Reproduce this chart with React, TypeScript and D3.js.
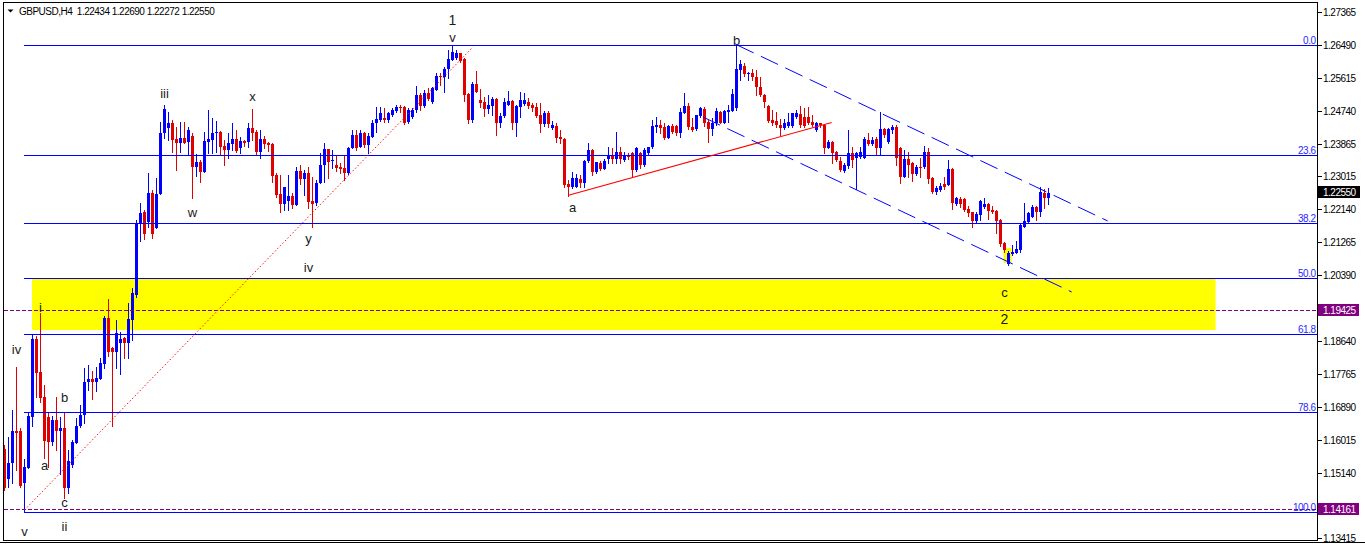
import React, { useEffect } from 'react';
import * as d3 from 'd3';

// ---- Candles (GBPUSD, H4) ----
const OPEN = [
  1.1578, 1.1499, 1.1541, 1.1626, 1.1626, 1.1488, 1.1528, 1.1663, 1.1869, 1.1782,
  1.1716, 1.1663, 1.1597, 1.1655, 1.1626, 1.1634, 1.1475, 1.1536, 1.1594, 1.1639,
  1.1668, 1.1756, 1.1764, 1.1756, 1.1764, 1.1803, 1.1925, 1.1846, 1.1835, 1.1859,
  1.1872, 1.1859, 1.1920, 1.1986, 1.2174, 1.2206, 1.2179, 1.2256, 1.2164, 1.2254,
  1.2415, 1.2428, 1.2442, 1.2399, 1.2389, 1.2402, 1.2391, 1.2407, 1.2325, 1.2338,
  1.2312, 1.2391, 1.2397, 1.2415, 1.2418, 1.2381, 1.2370, 1.2386, 1.2399, 1.2375,
  1.2394, 1.2391, 1.2428, 1.2418, 1.2365, 1.2399, 1.2389, 1.2386, 1.2304, 1.2254,
  1.2227, 1.2235, 1.2248, 1.2224, 1.2315, 1.2293, 1.2309, 1.2235, 1.2230, 1.2283,
  1.2330, 1.2373, 1.2341, 1.2330, 1.2325, 1.2322, 1.2309, 1.2375, 1.2410, 1.2378,
  1.2415, 1.2383, 1.2405, 1.2442, 1.2450, 1.2455, 1.2450, 1.2463, 1.2473, 1.2484,
  1.2484, 1.2444, 1.2458, 1.2476, 1.2516, 1.2487, 1.2521, 1.2497, 1.2529, 1.2566,
  1.2564, 1.2585, 1.2609, 1.2614, 1.2627, 1.2611, 1.2518, 1.2450, 1.2545, 1.2503,
  1.2497, 1.2479, 1.2487, 1.2505, 1.2442, 1.2460, 1.2489, 1.2500, 1.2442, 1.2484,
  1.2492, 1.2497, 1.2489, 1.2484, 1.2463, 1.2439, 1.2468, 1.2428, 1.2434, 1.2405,
  1.2399, 1.2280, 1.2272, 1.2272, 1.2293, 1.2283, 1.2341, 1.2370, 1.2312, 1.2336,
  1.2320, 1.2346, 1.2357, 1.2346, 1.2365, 1.2344, 1.2357, 1.2362, 1.2317, 1.2362,
  1.2330, 1.2362, 1.2378, 1.2431, 1.2436, 1.2431, 1.2402, 1.2434, 1.2434, 1.2415,
  1.2468, 1.2487, 1.2431, 1.2426, 1.2460, 1.2479, 1.2444, 1.2426, 1.2442, 1.2471,
  1.2442, 1.2471, 1.2473, 1.2481, 1.2582, 1.2593, 1.2571, 1.2574, 1.2564, 1.2537,
  1.2516, 1.2487, 1.2450, 1.2447, 1.2436, 1.2428, 1.2434, 1.2434, 1.2458, 1.2466,
  1.2458, 1.2458, 1.2444, 1.2423, 1.2442, 1.2436, 1.2375, 1.2391, 1.2365, 1.2341,
  1.2315, 1.2328, 1.2362, 1.2349, 1.2352, 1.2349, 1.2397, 1.2386, 1.2399, 1.2375,
  1.2426, 1.2391, 1.2423, 1.2431, 1.2375, 1.2299, 1.2346, 1.2336, 1.2307, 1.2325,
  1.2325, 1.2365, 1.2296, 1.2259, 1.2264, 1.2280, 1.2277, 1.2320, 1.2227, 1.2240,
  1.2240, 1.2214, 1.2206, 1.2182, 1.2198, 1.2219, 1.2227, 1.2211, 1.2209, 1.2185,
  1.2124, 1.2068, 1.2095, 1.2097, 1.2105, 1.2166, 1.2179, 1.2193, 1.2219, 1.2206,
  1.2256, 1.22434,
];
const HIGH = [
  1.1589, 1.1610, 1.1681, 1.1795, 1.1634, 1.1552, 1.1673, 1.1880, 1.1877, 1.1938,
  1.1748, 1.1676, 1.1666, 1.1716, 1.1663, 1.1676, 1.1575, 1.1602, 1.1660, 1.1695,
  1.1793, 1.1801, 1.1785, 1.1795, 1.1819, 1.1930, 1.1975, 1.1848, 1.1920, 1.1888,
  1.1875, 1.1965, 1.2005, 1.2185, 1.2230, 1.2211, 1.2309, 1.2264, 1.2296, 1.2444,
  1.2489, 1.2471, 1.2450, 1.2431, 1.2444, 1.2444, 1.2431, 1.2415, 1.2360, 1.2344,
  1.2418, 1.2476, 1.2455, 1.2447, 1.2420, 1.2397, 1.2415, 1.2442, 1.2423, 1.2405,
  1.2397, 1.2442, 1.2479, 1.2423, 1.2423, 1.2407, 1.2391, 1.2389, 1.2309, 1.2304,
  1.2272, 1.2304, 1.2256, 1.2325, 1.2330, 1.2317, 1.2325, 1.2299, 1.2291, 1.2362,
  1.2389, 1.2373, 1.2370, 1.2357, 1.2336, 1.2357, 1.2378, 1.2423, 1.2423, 1.2423,
  1.2418, 1.2415, 1.2450, 1.2484, 1.2484, 1.2481, 1.2471, 1.2481, 1.2489, 1.2489,
  1.2487, 1.2481, 1.2481, 1.2540, 1.2521, 1.2529, 1.2534, 1.2537, 1.2574, 1.2574,
  1.2590, 1.2635, 1.2649, 1.2635, 1.2627, 1.2614, 1.2521, 1.2550, 1.2579, 1.2532,
  1.2511, 1.2516, 1.2511, 1.2508, 1.2468, 1.2508, 1.2526, 1.2503, 1.2489, 1.2524,
  1.2521, 1.2508, 1.2495, 1.2495, 1.2495, 1.2473, 1.2473, 1.2447, 1.2442, 1.2423,
  1.2402, 1.2291, 1.2312, 1.2307, 1.2304, 1.2344, 1.2389, 1.2373, 1.2338, 1.2341,
  1.2346, 1.2378, 1.2375, 1.2418, 1.2378, 1.2365, 1.2362, 1.2365, 1.2378, 1.2365,
  1.2375, 1.2378, 1.2450, 1.2458, 1.2450, 1.2442, 1.2436, 1.2439, 1.2436, 1.2481,
  1.2521, 1.2495, 1.2455, 1.2463, 1.2484, 1.2484, 1.2450, 1.2455, 1.2481, 1.2473,
  1.2476, 1.2489, 1.2532, 1.2649, 1.2609, 1.2601, 1.2577, 1.2585, 1.2582, 1.2564,
  1.2518, 1.2489, 1.2476, 1.2471, 1.2452, 1.2452, 1.2468, 1.2468, 1.2476, 1.2487,
  1.2481, 1.2484, 1.2463, 1.2444, 1.2442, 1.2439, 1.2397, 1.2394, 1.2368, 1.2352,
  1.2336, 1.2423, 1.2378, 1.2365, 1.2378, 1.2405, 1.2415, 1.2405, 1.2405, 1.2471,
  1.2428, 1.2428, 1.2436, 1.2436, 1.2378, 1.2370, 1.2365, 1.2338, 1.2330, 1.2349,
  1.2381, 1.2375, 1.2299, 1.2275, 1.2283, 1.2299, 1.2344, 1.2322, 1.2246, 1.2246,
  1.2243, 1.2222, 1.2206, 1.2206, 1.2238, 1.2243, 1.2230, 1.2222, 1.2211, 1.2187,
  1.2127, 1.2103, 1.2119, 1.2129, 1.2177, 1.2230, 1.2206, 1.2224, 1.2222, 1.2272,
  1.2267, 1.22690,
];
const LOW = [
  1.1470, 1.1478, 1.1488, 1.1522, 1.1478, 1.1411, 1.1528, 1.1639, 1.1716, 1.1703,
  1.1554, 1.1530, 1.1589, 1.1575, 1.1512, 1.1448, 1.1462, 1.1530, 1.1594, 1.1636,
  1.1647, 1.1734, 1.1710, 1.1732, 1.1764, 1.1793, 1.1825, 1.1639, 1.1793, 1.1777,
  1.1819, 1.1819, 1.1867, 1.1981, 1.2129, 1.2134, 1.2166, 1.2137, 1.2164, 1.2254,
  1.2402, 1.2397, 1.2365, 1.2317, 1.2365, 1.2389, 1.2357, 1.2243, 1.2301, 1.2285,
  1.2312, 1.2362, 1.2362, 1.2365, 1.2360, 1.2330, 1.2349, 1.2370, 1.2365, 1.2362,
  1.2381, 1.2378, 1.2397, 1.2357, 1.2349, 1.2375, 1.2368, 1.2285, 1.2246, 1.2206,
  1.2211, 1.2211, 1.2217, 1.2224, 1.2280, 1.2251, 1.2217, 1.2166, 1.2224, 1.2283,
  1.2285, 1.2296, 1.2322, 1.2315, 1.2309, 1.2291, 1.2307, 1.2375, 1.2370, 1.2378,
  1.2378, 1.2362, 1.2405, 1.2418, 1.2447, 1.2444, 1.2444, 1.2460, 1.2471, 1.2471,
  1.2439, 1.2442, 1.2455, 1.2471, 1.2476, 1.2484, 1.2503, 1.2495, 1.2529, 1.2542,
  1.2524, 1.2561, 1.2609, 1.2611, 1.2603, 1.2500, 1.2442, 1.2444, 1.2524, 1.2484,
  1.2460, 1.2468, 1.2463, 1.2410, 1.2431, 1.2458, 1.2489, 1.2426, 1.2407, 1.2458,
  1.2489, 1.2481, 1.2473, 1.2458, 1.2418, 1.2434, 1.2431, 1.2426, 1.2391, 1.2389,
  1.2272, 1.2248, 1.2269, 1.2272, 1.2272, 1.2272, 1.2338, 1.2304, 1.2309, 1.2317,
  1.2320, 1.2336, 1.2336, 1.2336, 1.2336, 1.2341, 1.2346, 1.2299, 1.2315, 1.2322,
  1.2328, 1.2357, 1.2375, 1.2418, 1.2415, 1.2399, 1.2402, 1.2415, 1.2410, 1.2405,
  1.2468, 1.2426, 1.2420, 1.2423, 1.2458, 1.2434, 1.2391, 1.2410, 1.2436, 1.2442,
  1.2442, 1.2444, 1.2473, 1.2476, 1.2556, 1.2566, 1.2556, 1.2556, 1.2516, 1.2513,
  1.2484, 1.2444, 1.2436, 1.2431, 1.2410, 1.2426, 1.2431, 1.2431, 1.2455, 1.2431,
  1.2431, 1.2439, 1.2434, 1.2420, 1.2431, 1.2362, 1.2375, 1.2336, 1.2341, 1.2315,
  1.2312, 1.2322, 1.2325, 1.2267, 1.2349, 1.2349, 1.2383, 1.2383, 1.2360, 1.2360,
  1.2405, 1.2389, 1.2415, 1.2330, 1.2283, 1.2299, 1.2299, 1.2288, 1.2304, 1.2299,
  1.2322, 1.2283, 1.2256, 1.2254, 1.2262, 1.2267, 1.2277, 1.2214, 1.2224, 1.2219,
  1.2209, 1.2195, 1.2166, 1.2179, 1.2185, 1.2217, 1.2187, 1.2203, 1.2150, 1.2116,
  1.2100, 1.2066, 1.2092, 1.2097, 1.2100, 1.2166, 1.2177, 1.2193, 1.2185, 1.2195,
  1.2217, 1.22272,
];
const CLOSE = [
  1.1475, 1.1541, 1.1626, 1.1620, 1.1480, 1.1530, 1.1666, 1.1869, 1.1779, 1.1713,
  1.1599, 1.1597, 1.1655, 1.1626, 1.1634, 1.1475, 1.1546, 1.1597, 1.1639, 1.1668,
  1.1756, 1.1764, 1.1756, 1.1766, 1.1806, 1.1925, 1.1835, 1.1835, 1.1885, 1.1869,
  1.1859, 1.1922, 1.1991, 1.2177, 1.2203, 1.2148, 1.2256, 1.2148, 1.2254, 1.2415,
  1.2479, 1.2442, 1.2397, 1.2389, 1.2402, 1.2389, 1.2423, 1.2325, 1.2338, 1.2312,
  1.2394, 1.2399, 1.2415, 1.2418, 1.2378, 1.2370, 1.2389, 1.2399, 1.2368, 1.2394,
  1.2389, 1.2428, 1.2415, 1.2365, 1.2399, 1.2386, 1.2383, 1.2301, 1.2251, 1.2227,
  1.2272, 1.2248, 1.2224, 1.2315, 1.2293, 1.2309, 1.2232, 1.2227, 1.2283, 1.2330,
  1.2373, 1.2338, 1.2344, 1.2322, 1.2320, 1.2309, 1.2375, 1.2410, 1.2375, 1.2415,
  1.2383, 1.2407, 1.2442, 1.2452, 1.2468, 1.2450, 1.2468, 1.2476, 1.2484, 1.2481,
  1.2442, 1.2476, 1.2476, 1.2516, 1.2487, 1.2521, 1.2505, 1.2534, 1.2566, 1.2564,
  1.2585, 1.2611, 1.2630, 1.2627, 1.2606, 1.2516, 1.2450, 1.2545, 1.2524, 1.2495,
  1.2479, 1.2489, 1.2505, 1.2442, 1.2460, 1.2497, 1.2500, 1.2442, 1.2487, 1.2503,
  1.2503, 1.2487, 1.2481, 1.2460, 1.2439, 1.2468, 1.2439, 1.2436, 1.2402, 1.2399,
  1.2277, 1.2272, 1.2296, 1.2296, 1.2283, 1.2341, 1.2370, 1.2312, 1.2338, 1.2320,
  1.2341, 1.2357, 1.2346, 1.2365, 1.2346, 1.2357, 1.2352, 1.2317, 1.2375, 1.2330,
  1.2370, 1.2378, 1.2434, 1.2436, 1.2428, 1.2402, 1.2434, 1.2418, 1.2415, 1.2471,
  1.2487, 1.2431, 1.2423, 1.2463, 1.2481, 1.2442, 1.2426, 1.2442, 1.2473, 1.2442,
  1.2473, 1.2476, 1.2518, 1.2585, 1.2598, 1.2571, 1.2574, 1.2564, 1.2537, 1.2516,
  1.2497, 1.2447, 1.2442, 1.2436, 1.2428, 1.2442, 1.2444, 1.2468, 1.2468, 1.2436,
  1.2434, 1.2442, 1.2436, 1.2442, 1.2436, 1.2375, 1.2391, 1.2362, 1.2344, 1.2317,
  1.2330, 1.2362, 1.2344, 1.2362, 1.2365, 1.2399, 1.2386, 1.2397, 1.2375, 1.2426,
  1.2410, 1.2426, 1.2431, 1.2349, 1.2299, 1.2346, 1.2330, 1.2307, 1.2325, 1.2322,
  1.2365, 1.2293, 1.2259, 1.2269, 1.2275, 1.2272, 1.2320, 1.2230, 1.2243, 1.2227,
  1.2211, 1.2203, 1.2182, 1.2201, 1.2235, 1.2227, 1.2209, 1.2206, 1.2182, 1.2121,
  1.2105, 1.2097, 1.2100, 1.2108, 1.2171, 1.2182, 1.2203, 1.2219, 1.2206, 1.2259,
  1.2243, 1.22550,
];

// ---- Axis ----
const AXIS_TICKS = [
  1.27365, 1.2649, 1.25615, 1.2474, 1.23865, 1.23015, 1.2214, 1.21265, 1.2039,
  1.19515, 1.1864, 1.17765, 1.1689, 1.16015, 1.1514, 1.14265, 1.13415,
];
const SYMBOL = 'GBPUSD,H4';
const BAR_OHLC = ['1.22434', '1.22690', '1.22272', '1.22550'];

// ---- Fibonacci retracement ----
const FIB_HIGH = 1.2649;
const FIB_LOW = 1.1411;
const FIB_START_BAR = 5;
const FIB_LEVELS = [0, 23.6, 38.2, 50, 61.8, 78.6, 100];
const FIB_LABELS = ['0.0', '23.6', '38.2', '50.0', '61.8', '78.6', '100.0'];

// ---- Objects ----
const ZONE_BARS = [7, 302.9];
const ZONE_PRICES = [1.20284, 1.18933];
const MARK_BARS = [249.75, 251.75];
const MARK_PRICES = [1.21106, 1.20708];
const PURPLE_LEVELS = [1.19425, 1.14161];
const CURRENT_PRICE = 1.2255;
// trend lines: [bar, price] pairs
const RED_DOTTED = [[5, 1.14165], [117.1, 1.2643]];
const RED_SOLID = [[141, 1.22504], [206.8, 1.2443]];
const CHANNEL_UPPER = [[183, 1.2649], [275.8, 1.21821]];
const CHANNEL_LOWER = [[174.6, 1.24576], [266.8, 1.1994]];

// ---- Wave labels: text, bar, price (baseline) ----
const WAVE_TEXT = ['1', 'v', 'iii', 'x', 'w', 'y', 'iv', 'b', 'a', 'c', '2', 'iv', 'i', 'b', 'a', 'c', 'ii', 'v'];
const WAVE_BAR = [112, 112, 40, 62, 47, 76, 76, 183, 142, 250, 250, 3, 9, 15, 10, 15, 15, 5];
const WAVE_PRICE = [
  1.2701, 1.2656, 1.25079, 1.25, 1.21927, 1.21238, 1.2047, 1.26483, 1.22059, 1.19808,
  1.19093, 1.18297, 1.1941, 1.17026, 1.15225, 1.14245, 1.13609, 1.13477,
];

const BULL = '#0000ff';
const BEAR = '#e00000';
const FONT = '"Liberation Sans", Arial, sans-serif';

export default function App() {
  useEffect(() => {
    document.body.style.margin = '0';
  }, []);

  const n = OPEN.length;
  const x = d3.scaleLinear().domain([0, n - 1]).range([4.5, 4.5 + 4 * (n - 1)]);
  const y = d3.scaleLinear().domain([1.27365, 1.13415]).range([11.7, 538.3]);

  const plotLeft = 3.5;
  const plotRight = 1317.5;
  const plotTop = 2.5;
  const plotBottom = 540.5;

  const boxCenters = [...PURPLE_LEVELS, CURRENT_PRICE].map((p) => Math.round(y(p)) - 1);

  const candles = d3.range(n).map((i) => {
    const o = OPEN[i], c = CLOSE[i], h = HIGH[i], l = LOW[i];
    const up = c >= o;
    const cx = x(i);
    const yTop = Math.round(y(Math.max(o, c)));
    const yBot = Math.round(y(Math.min(o, c)));
    const color = up ? BULL : BEAR;
    return (
      <g key={i}>
        <line x1={cx} x2={cx} y1={Math.round(y(h))} y2={Math.round(y(l)) + 1} stroke={color} strokeWidth={1} />
        <rect x={cx - 1.5} y={yTop} width={3} height={Math.max(1, yBot - yTop)} fill={color} />
      </g>
    );
  });

  const fibPrice = (lvl: number) => FIB_HIGH - ((FIB_HIGH - FIB_LOW) * lvl) / 100;
  const seg = (pts: number[][]) => ({ x1: x(pts[0][0]), y1: y(pts[0][1]), x2: x(pts[1][0]), y2: y(pts[1][1]) });

  const rd = seg(RED_DOTTED);
  const rs = seg(RED_SOLID);
  const cu = seg(CHANNEL_UPPER);
  const cl = seg(CHANNEL_LOWER);

  return (
    <svg
      width={1365}
      height={544}
      style={{ position: 'absolute', left: 0, top: 0, background: '#fff' }}
      fontFamily={FONT}
    >
      <rect x={0} y={0} width={1365} height={544} fill="#fff" />
      <defs>
        <clipPath id="plot">
          <rect x={plotLeft} y={plotTop} width={plotRight - plotLeft} height={plotBottom - plotTop} />
        </clipPath>
      </defs>

      <g clipPath="url(#plot)">
        {/* yellow zone */}
        <rect
          x={x(ZONE_BARS[0]) - 0.5}
          y={Math.round(y(ZONE_PRICES[0]))}
          width={x(ZONE_BARS[1]) - x(ZONE_BARS[0])}
          height={Math.round(y(ZONE_PRICES[1])) - Math.round(y(ZONE_PRICES[0]))}
          fill="#ffff00"
        />
        <rect
          x={x(MARK_BARS[0])}
          y={Math.round(y(MARK_PRICES[0]))}
          width={x(MARK_BARS[1]) - x(MARK_BARS[0])}
          height={Math.round(y(MARK_PRICES[1])) - Math.round(y(MARK_PRICES[0]))}
          fill="#ffff00"
        />

        {/* candles */}
        <g shapeRendering="crispEdges">{candles}</g>

        {/* fib lines */}
        <g shapeRendering="crispEdges">
          {FIB_LEVELS.map((lvl, k) => {
            const yy = Math.round(y(fibPrice(lvl))) + 0.5;
            return (
              <line key={k} x1={x(FIB_START_BAR) - 0.5} x2={plotRight} y1={yy} y2={yy} stroke="#0000ff" strokeWidth={1} />
            );
          })}
          {PURPLE_LEVELS.map((p, k) => {
            const yy = Math.round(y(p)) - 0.5;
            return (
              <line key={k} x1={plotLeft} x2={plotRight} y1={yy} y2={yy} stroke="#800080" strokeWidth={1} strokeDasharray="4,2" />
            );
          })}
        </g>

        {/* trend lines */}
        <line {...rd} stroke="#ff0000" strokeWidth={1} strokeDasharray="1.4,2.2" />
        <line {...rs} stroke="#ff0000" strokeWidth={1.1} />
        <line {...cu} stroke="#0000ff" strokeWidth={1} strokeDasharray="19,8" />
        <line {...cl} stroke="#0000ff" strokeWidth={1} strokeDasharray="19,8" />

        {/* fib labels */}
        {FIB_LEVELS.map((lvl, k) => (
          <text
            key={k}
            x={plotRight - 2}
            y={Math.round(y(fibPrice(lvl))) - 1.5}
            textAnchor="end"
            fontSize={10}
            letterSpacing={-0.5}
            fill="#2a2aff"
          >
            {FIB_LABELS[k]}
          </text>
        ))}

        {/* wave labels */}
        {WAVE_TEXT.map((t, k) => (
          <text
            key={k}
            x={x(WAVE_BAR[k])}
            y={y(WAVE_PRICE[k])}
            textAnchor="middle"
            fontSize={/[0-9]/.test(t) ? 14 : 13}
            fill="#1a1a1a"
          >
            {t}
          </text>
        ))}
      </g>

      {/* frame */}
      <g shapeRendering="crispEdges" stroke="#000" fill="none">
        <rect x={plotLeft} y={plotTop} width={plotRight - plotLeft} height={plotBottom - plotTop} />
        <line x1={0} x2={1365} y1={542.5} y2={542.5} />
      </g>

      {/* y axis */}
      <g>
        {AXIS_TICKS.map((t, k) => {
          const yy = Math.round(y(t)) + 0.5;
          const hidden = boxCenters.some((b) => Math.abs(b - yy) < 10);
          return (
            <g key={k}>
              <line x1={plotRight} x2={plotRight + 4} y1={yy} y2={yy} stroke="#000" shapeRendering="crispEdges" />
              {!hidden && (
                <text x={1323} y={yy + 3.5} fontSize={10} letterSpacing={-0.5} fill="#000">
                  {t.toFixed(5)}
                </text>
              )}
            </g>
          );
        })}
        {PURPLE_LEVELS.map((p, k) => {
          const yy = Math.round(y(p)) - 1;
          return (
            <g key={k}>
              <rect x={1318} y={yy - 6} width={41} height={12} fill="#800080" />
              <text x={1323} y={yy + 4} fontSize={10} letterSpacing={-0.5} fill="#fff">
                {p.toFixed(5)}
              </text>
            </g>
          );
        })}
        {(() => {
          const yy = Math.round(y(CURRENT_PRICE)) - 1;
          return (
            <g>
              <rect x={1318} y={yy - 6} width={42} height={12} fill="#000" />
              <text x={1323} y={yy + 4} fontSize={10} letterSpacing={-0.5} fill="#fff">
                {CURRENT_PRICE.toFixed(5)}
              </text>
            </g>
          );
        })()}
      </g>

      {/* title */}
      <path d="M7.5,9.5 L13.5,9.5 L10.5,12.5 Z" fill="#000" />
      <text x={19} y={14.5} fontSize={10} letterSpacing={-0.5} fill="#000" style={{ whiteSpace: 'pre' }}>
        {SYMBOL + '  ' + BAR_OHLC.join(' ')}
      </text>
    </svg>
  );
}
